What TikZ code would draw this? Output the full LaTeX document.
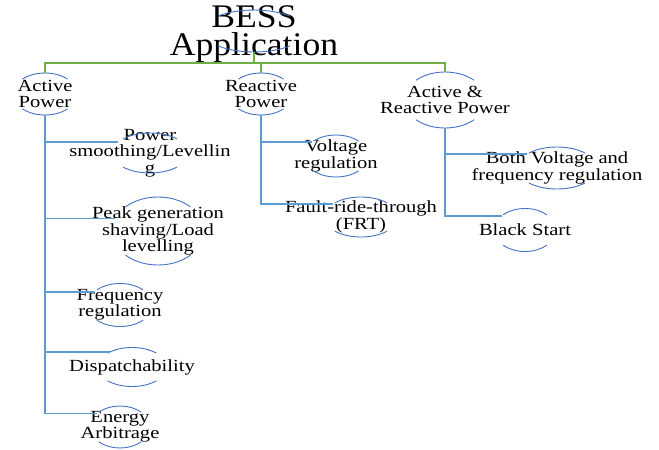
\documentclass[tikz,border=0pt]{standalone}
\usepackage{fontspec}
\usepackage{tikz}
\usetikzlibrary{shapes.geometric}

\newfontfamily\bessfont{Liberation Serif}[FakeStretch=1.21]
\newfontfamily\besstitlefont{Liberation Serif}[FakeStretch=1.08]

\definecolor{bessgreen}{RGB}{112,173,71}
\definecolor{bessblue}{RGB}{91,155,213}
\definecolor{ringblue}{RGB}{68,114,196}

\tikzset{
  ring/.style 2 args={ellipse, minimum width=2*#1, minimum height=2*#2, inner sep=0pt, outer sep=0pt},
  itemtext/.style={align=center, inner sep=0pt, font=\bessfont\fontsize{17}{16.5}\selectfont},
  titletext/.style={align=center, inner sep=0pt, font=\besstitlefont\fontsize{33}{28}\selectfont},
  rootline/.style={draw=bessgreen, line width=1.3pt},
  bessline/.style={draw=bessblue, line width=1.4pt},
  ringarc/.style={draw=ringblue, line width=0.9pt}
}

% top and bottom arcs of a ring: name, x radius, y radius
\newcommand{\ringarcs}[3]{%
  \draw[ringarc] (#1.center) ++(45:#2 and #3) arc[start angle=45, end angle=135, x radius=#2, y radius=#3];
  \draw[ringarc] (#1.center) ++(225:#2 and #3) arc[start angle=225, end angle=315, x radius=#2, y radius=#3];}

\begin{document}
\begin{tikzpicture}[x=1pt, y=-1pt]
    \useasboundingbox (0,0) rectangle (659,450);

    % root
    \node[ring={51pt}{21pt}] (bess) at (254,31) {};
    \node[titletext, yshift=-3pt] (bess-t) at (bess) {BESS\\Application};
    \ringarcs{bess}{51pt}{21pt}

    % three groups
    \node[ring={32pt}{21pt}] (act) at (45,94) {};
    \node[itemtext] (act-t) at (act) {Active\\Power};
    \ringarcs{act}{32pt}{21pt}

    \node[ring={32pt}{21pt}] (rea) at (261,94) {};
    \node[itemtext] (rea-t) at (rea) {Reactive\\Power};
    \ringarcs{rea}{32pt}{21pt}

    \node[ring={41pt}{28pt}] (ar) at (445,100) {};
    \node[itemtext] (ar-t) at (ar) {Active \&\\Reactive Power};
    \ringarcs{ar}{41pt}{28pt}

    % active power items
    \node[ring={38pt}{20pt}] (ps) at (150,153) {};
    \node[itemtext] (ps-t) at (ps) {Power\\smoothing/Levellin\\g};
    \ringarcs{ps}{38pt}{20pt}

    \node[ring={46pt}{34pt}] (pk) at (158,231) {};
    \node[itemtext] (pk-t) at (pk) {Peak generation\\shaving/Load\\levelling};
    \ringarcs{pk}{46pt}{34pt}

    \node[ring={32.5pt}{21.5pt}] (fr) at (120,305) {};
    \node[itemtext] (fr-t) at (fr) {Frequency\\regulation};
    \ringarcs{fr}{32.5pt}{21.5pt}

    \node[ring={34.6pt}{19.5pt}] (di) at (132,367) {};
    \node[itemtext] (di-t) at (di) {Dispatchability};
    \ringarcs{di}{34.6pt}{19.5pt}

    \node[ring={30pt}{21pt}] (ea) at (120,427) {};
    \node[itemtext] (ea-t) at (ea) {Energy\\Arbitrage};
    \ringarcs{ea}{30pt}{21pt}

    % reactive power items
    \node[ring={32pt}{21pt}] (vo) at (336,156) {};
    \node[itemtext] (vo-t) at (vo) {Voltage\\regulation};
    \ringarcs{vo}{32pt}{21pt}

    \node[ring={37pt}{20pt}] (frt) at (361,217) {};
    \node[itemtext] (frt-t) at (frt) {Fault-ride-through\\(FRT)};
    \ringarcs{frt}{37pt}{20pt}

    % active & reactive power items
    \node[ring={40pt}{21pt}] (bo) at (557,168) {};
    \node[itemtext] (bo-t) at (bo) {Both Voltage and\\frequency regulation};
    \ringarcs{bo}{40pt}{21pt}

    \node[ring={31pt}{21.5pt}] (bs) at (525,230) {};
    \node[itemtext] (bs-t) at (bs) {Black Start};
    \ringarcs{bs}{31pt}{21.5pt}

    % green links from the root
    \draw[rootline] (bess.south) -- ++(0,11) coordinate (hub);
    \draw[rootline] (hub) -| (act.north);
    \draw[rootline] (hub) -| (rea.north);
    \draw[rootline] (hub) -| (ar.north);

    % blue links to the items
    \draw[bessline] (act.south) |- (ps.161);
    \draw[bessline] (act.south) |- (pk.164);
    \draw[bessline] (act.south) |- (fr.153);
    \draw[bessline] (act.south) |- (di.146);
    \draw[bessline] (act.south) |- (ea.150);
    \draw[bessline] (rea.south) |- (vo.150);
    \draw[bessline] (rea.south) |- (frt.155);
    \draw[bessline] (ar.south) |- (bo.155);
    \draw[bessline] (ar.south) |- (bs.149);
\end{tikzpicture}
\end{document}
